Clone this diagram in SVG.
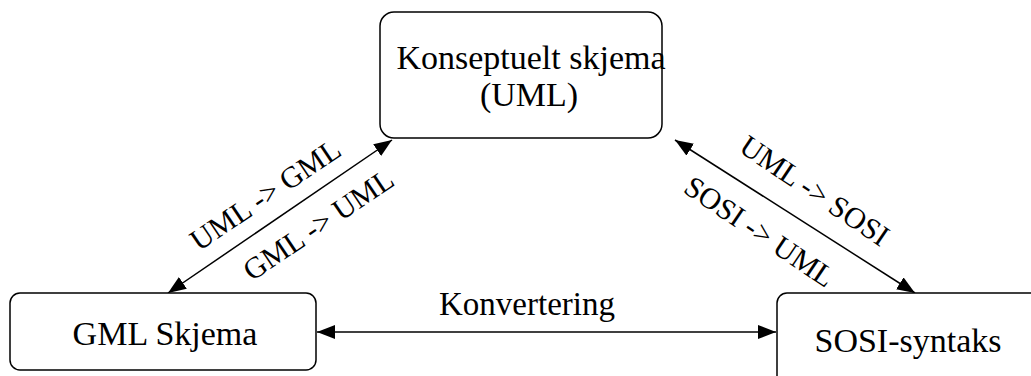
<svg xmlns="http://www.w3.org/2000/svg" width="1031" height="376" viewBox="0 0 1031 376">
<style>
.box{fill:#fff;stroke:#000;stroke-width:1.5}
.t{font-family:"Liberation Serif","Times New Roman",serif;font-size:34px;fill:#000;text-anchor:middle}
.l{font-family:"Liberation Serif","Times New Roman",serif;font-size:30px;fill:#000;text-anchor:middle}
.c{stroke:#000;stroke-width:1.5;fill:none;marker-start:url(#a);marker-end:url(#a)}
</style>
<defs>
<marker id="a" viewBox="0 0 18 14" refX="18" refY="7" markerWidth="18" markerHeight="14" markerUnits="userSpaceOnUse" orient="auto-start-reverse">
<path d="M0,0 L18,7 L0,14 Z" fill="#000"/>
</marker>
</defs>
<g id="connectors">
<line class="c" x1="168" y1="293" x2="392" y2="140"/>
<line class="c" x1="675" y1="140" x2="915" y2="293"/>
<line class="c" x1="317" y1="332" x2="776" y2="332"/>
<text class="l" transform="translate(271,203) rotate(-34)">UML -&gt; GML</text>
<text class="l" transform="translate(324,233) rotate(-34)">GML -&gt; UML</text>
<text class="l" transform="translate(809,199) rotate(34)">UML -&gt; SOSI</text>
<text class="l" transform="translate(754,240) rotate(34)">SOSI -&gt; UML</text>
<text class="t" x="527" y="315" style="font-size:33px">Konvertering</text>
</g>
<g id="n-konseptuelt">
<rect class="box" x="380" y="12" width="282" height="126" rx="14"/>
<text class="t" x="531" y="69">Konseptuelt skjema</text>
<text class="t" x="529" y="106">(UML)</text>
</g>
<g id="n-gml">
<rect class="box" x="10" y="293" width="306" height="77" rx="10"/>
<text class="t" x="165" y="345">GML Skjema</text>
</g>
<g id="n-sosi">
<rect class="box" x="777" y="293" width="270" height="100" rx="10"/>
<text class="t" x="908" y="352">SOSI-syntaks</text>
</g>
</svg>
